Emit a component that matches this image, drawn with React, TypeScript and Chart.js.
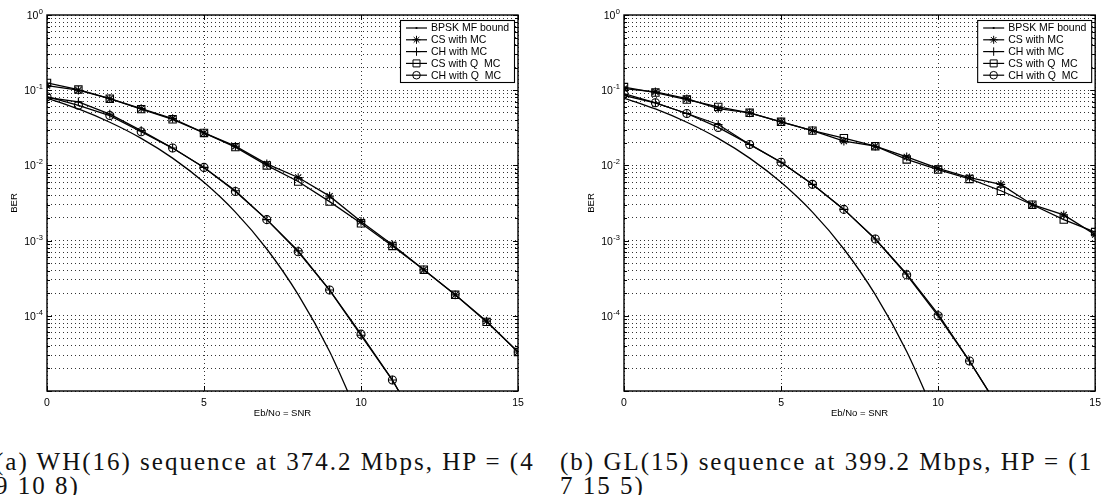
import React, { useEffect, useRef } from "react";
import { Chart, registerables } from "chart.js";

Chart.register(...registerables);

// ---------- data ----------
const snr = [0, 1, 2, 3, 4, 5, 6, 7, 8, 9, 10, 11, 12, 13, 14, 15];

// BPSK matched-filter bound (same in both panels)
const bpskBound = [0.0786, 0.0563, 0.0375, 0.0229, 0.0125, 0.00595, 0.00239, 0.000773, 0.000191, 3.36e-5, 3.87e-6];

// (a) WH(16)
const csMcA = [0.115, 0.1, 0.077, 0.057, 0.042, 0.027, 0.018, 0.0105, 0.0069, 0.0039, 0.0018, 0.00088, 0.00041, 0.00019, 8.5e-5, 3.3e-5];
const chMcA = [0.08, 0.07, 0.048, 0.029, 0.017, 0.0094, 0.0046, 0.0019, 0.00073, 0.00022, 5.5e-5, 1.4e-5, 2.6e-6];
const csQMcA = [0.125, 0.102, 0.077, 0.056, 0.041, 0.027, 0.0175, 0.01, 0.0061, 0.0033, 0.0017, 0.00085, 0.00041, 0.00019, 8.3e-5, 3.3e-5];
const chQMcA = [0.082, 0.063, 0.046, 0.028, 0.017, 0.0094, 0.0045, 0.0019, 0.00071, 0.00022, 5.7e-5, 1.4e-5, 2.6e-6];

// (b) GL(15)
const csMcB = [0.105, 0.095, 0.077, 0.057, 0.05, 0.038, 0.029, 0.021, 0.018, 0.013, 0.0091, 0.0069, 0.0056, 0.003, 0.0022, 0.0012];
const chMcB = [0.085, 0.068, 0.049, 0.035, 0.019, 0.011, 0.0056, 0.0026, 0.00105, 0.00036, 0.000105, 2.5e-5, 5.4e-6];
const csQMcB = [0.11, 0.093, 0.075, 0.06, 0.05, 0.038, 0.029, 0.023, 0.018, 0.012, 0.0088, 0.0066, 0.0046, 0.003, 0.0019, 0.0013];
const chQMcB = [0.09, 0.068, 0.049, 0.032, 0.019, 0.011, 0.0056, 0.0026, 0.00105, 0.00035, 0.0001, 2.5e-5, 5.4e-6];

const legendLabels = ["BPSK MF bound", "CS with MC", "CH with MC", "CS with Q  MC", "CH with Q  MC"];
const markerStyles = ["dot", "star", "cross", "rect", "circle"];

const xTicks = [0, 5, 10, 15];
const decades = [1e-5, 1e-4, 1e-3, 1e-2, 1e-1, 1];
const mantissas = [1, 2, 3, 4, 5, 6, 7, 8, 9];
// labelled decades: base "10" with exponent
const yLabelDecades = [1, 1e-1, 1e-2, 1e-3, 1e-4];
const yLabelExponents = ["0", "-1", "-2", "-3", "-4"];

const xTitle = "Eb/No = SNR";
const yTitle = "BER";
const captionA = ["(a) WH(16) sequence at 374.2 Mbps, HP = (4", "9 10 8)"];
const captionB = ["(b) GL(15) sequence at 399.2 Mbps, HP = (1", "7 15 5)"];

// ---------- helpers ----------
const yTickValues: number[] = [];
decades.slice(0, -1).forEach((d) => mantissas.forEach((m) => yTickValues.push(+(d * m).toPrecision(3))));
yTickValues.push(1);

const pts = (vals: number[]) => vals.map((v, i) => ({ x: snr[i], y: v }));
const isDecade = (v: number) => decades.some((d) => Math.abs(v - d) / d < 1e-6);
const SANS = "'Liberation Sans', Arial, sans-serif";

function drawMarker(ctx: CanvasRenderingContext2D, style: string, x: number, y: number) {
  ctx.beginPath();
  if (style === "dot") {
    ctx.arc(x, y, 1.1, 0, Math.PI * 2);
    ctx.fillStyle = "#000";
    ctx.fill();
    return;
  }
  if (style === "circle") {
    ctx.arc(x, y, 3.8, 0, Math.PI * 2);
  } else if (style === "rect") {
    ctx.rect(x - 3.5, y - 3.5, 7, 7);
  } else if (style === "cross") {
    ctx.moveTo(x - 4.2, y); ctx.lineTo(x + 4.2, y);
    ctx.moveTo(x, y - 4.2); ctx.lineTo(x, y + 4.2);
  } else if (style === "star") {
    ctx.moveTo(x - 4, y); ctx.lineTo(x + 4, y);
    ctx.moveTo(x, y - 4); ctx.lineTo(x, y + 4);
    ctx.moveTo(x - 2.8, y - 2.8); ctx.lineTo(x + 2.8, y + 2.8);
    ctx.moveTo(x - 2.8, y + 2.8); ctx.lineTo(x + 2.8, y - 2.8);
  }
  ctx.stroke();
}

const framePlugin = {
  id: "frameLegend",
  afterDraw(chart: any) {
    const { ctx, chartArea } = chart;
    const { left, right, top, bottom } = chartArea;
    const ys = chart.scales.y;
    const xs = chart.scales.x;
    ctx.save();
    ctx.strokeStyle = "#000";
    ctx.lineWidth = 1;
    // inner tick marks
    yTickValues.forEach((v) => {
      const py = Math.round(ys.getPixelForValue(v)) + 0.5;
      const len = isDecade(v) ? 5 : 3;
      ctx.beginPath();
      ctx.moveTo(left, py); ctx.lineTo(left + len, py);
      ctx.moveTo(right, py); ctx.lineTo(right - len, py);
      ctx.stroke();
    });
    xTicks.forEach((v) => {
      const px = Math.round(xs.getPixelForValue(v)) + 0.5;
      ctx.beginPath();
      ctx.moveTo(px, bottom); ctx.lineTo(px, bottom - 5);
      ctx.moveTo(px, top); ctx.lineTo(px, top + 5);
      ctx.stroke();
    });
    // frame
    ctx.lineWidth = 1.4;
    ctx.strokeRect(left, top, right - left, bottom - top);

    // y tick labels: 10 with superscript exponent
    ctx.fillStyle = "#000";
    ctx.textBaseline = "alphabetic";
    yLabelDecades.forEach((d, i) => {
      const py = ys.getPixelForValue(d);
      const exp = yLabelExponents[i];
      ctx.font = `7.5px ${SANS}`;
      const ew = ctx.measureText(exp).width;
      ctx.textAlign = "left";
      ctx.fillText(exp, left - 4 - ew, py - 1);
      ctx.font = `10.5px ${SANS}`;
      ctx.textAlign = "right";
      ctx.fillText("10", left - 4 - ew - 0.5, py + 4);
    });

    // legend
    const bw = 114, bh = 62;
    const bx = right - 4 - bw, by = top + 5;
    ctx.fillStyle = "#fff";
    ctx.fillRect(bx, by, bw, bh);
    ctx.lineWidth = 1.1;
    ctx.strokeStyle = "#000";
    ctx.strokeRect(bx + 0.5, by + 0.5, bw, bh);
    ctx.font = `10.5px ${SANS}`;
    ctx.textBaseline = "middle";
    ctx.textAlign = "left";
    legendLabels.forEach((lab, i) => {
      const ly = by + 8 + i * 11.8;
      ctx.strokeStyle = "#000";
      ctx.lineWidth = 1.2;
      ctx.beginPath();
      ctx.moveTo(bx + 6, ly); ctx.lineTo(bx + 27, ly);
      ctx.stroke();
      ctx.lineWidth = 1;
      drawMarker(ctx, markerStyles[i], bx + 16.5, ly);
      ctx.fillStyle = "#000";
      ctx.fillText(lab, bx + 31, ly + 0.5);
    });
    ctx.restore();
  },
};

function makeDataset(label: string, vals: number[], style: string) {
  const base: any = {
    label,
    data: pts(vals),
    borderColor: "#000",
    borderWidth: 1.3,
    backgroundColor: "rgba(0,0,0,0)",
    fill: false,
    tension: 0,
  };
  if (style === "dot") {
    base.pointRadius = 0;
    base.cubicInterpolationMode = "monotone";
  } else {
    base.pointStyle = style;
    base.pointRadius = style === "rect" ? 5.2 : style === "circle" ? 4 : 4.3;
    base.pointBorderColor = "#000";
    base.pointBackgroundColor = "rgba(0,0,0,0)";
    base.pointBorderWidth = 1.1;
  }
  return base;
}

function Panel(props: { left: number; width: number; padRight: number; series: number[][] }) {
  const ref = useRef<HTMLCanvasElement>(null);
  useEffect(() => {
    const datasets = props.series.map((s, i) => makeDataset(legendLabels[i], s, markerStyles[i]));
    const chart = new Chart(ref.current as HTMLCanvasElement, {
      type: "line",
      data: { datasets },
      plugins: [framePlugin],
      options: {
        animation: false,
        responsive: false,
        layout: { padding: { top: 15, right: props.padRight, left: 0, bottom: 0 } },
        plugins: { legend: { display: false }, tooltip: { enabled: false } },
        scales: {
          x: {
            type: "linear",
            min: 0,
            max: 15,
            afterBuildTicks: (scale: any) => {
              scale.ticks = xTicks.map((v) => ({ value: v }));
            },
            afterFit: (scale: any) => {
              scale.height = 29;
            },
            ticks: { color: "#000", font: { family: SANS, size: 10.5 }, padding: 6, autoSkip: false, maxRotation: 0 },
            grid: { color: "#333", lineWidth: 1, drawTicks: false },
            border: { display: false, dash: [1, 3] },
            title: {
              display: true,
              text: xTitle,
              color: "#000",
              font: { family: SANS, size: 9.5 },
              padding: { top: 0, bottom: 1 },
            },
          },
          y: {
            type: "logarithmic",
            min: 1e-5,
            max: 1,
            afterBuildTicks: (scale: any) => {
              scale.ticks = yTickValues.map((v) => ({ value: v, major: isDecade(v) }));
            },
            afterFit: (scale: any) => {
              scale.width = 47;
            },
            ticks: {
              display: true,
              color: "rgba(0,0,0,0)",
              font: { family: SANS, size: 10 },
              padding: 4,
              autoSkip: false,
              callback: () => "",
            },
            grid: { color: "#333", lineWidth: 1, drawTicks: false },
            border: { display: false, dash: [1, 3] },
            title: {
              display: true,
              text: yTitle,
              color: "#000",
              font: { family: SANS, size: 9.5 },
              padding: { top: 9, bottom: 0 },
            },
          },
        },
      } as any,
    });
    return () => chart.destroy();
  }, []);
  return (
    <div style={{ position: "absolute", left: props.left, top: 0, width: props.width, height: 420 }}>
      <canvas ref={ref} width={props.width} height={420} style={{ display: "block" }} />
    </div>
  );
}

const captionStyle: React.CSSProperties = {
  position: "absolute",
  whiteSpace: "nowrap",
  fontFamily: "'Liberation Serif', 'DejaVu Serif', serif",
  fontSize: 25,
  lineHeight: "24px",
  color: "#111",
  letterSpacing: "2px",
};

export default function App() {
  return (
    <div
      style={{
        position: "fixed",
        left: 0,
        top: 0,
        width: 1107,
        height: 495,
        overflow: "hidden",
        background: "#fff",
      }}
    >
      <Panel left={0} width={545} padRight={27} series={[bpskBound, csMcA, chMcA, csQMcA, chQMcA]} />
      <Panel left={577} width={530} padRight={8} series={[bpskBound, csMcB, chMcB, csQMcB, chQMcB]} />
      <div style={{ ...captionStyle, left: -5, top: 450 }}>
        {captionA[0]}
        <br />
        {captionA[1]}
      </div>
      <div style={{ ...captionStyle, left: 560, top: 450 }}>
        {captionB[0]}
        <br />
        {captionB[1]}
      </div>
    </div>
  );
}
